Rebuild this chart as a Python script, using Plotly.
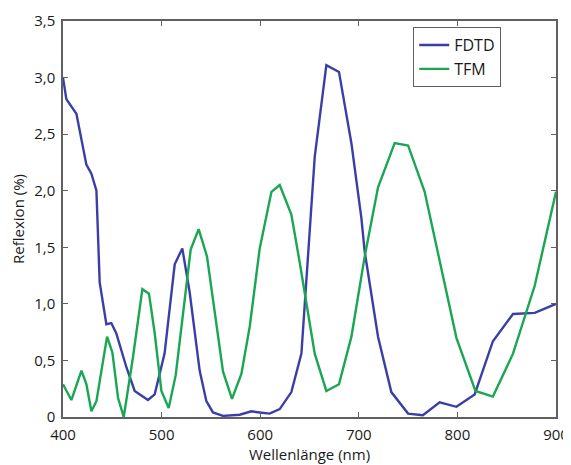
import plotly.graph_objects as go

fdtd_x = [400, 403.4, 413.6, 423.7, 428.8, 433.9, 437.2, 444, 449, 454, 464.3, 472.7, 486.2, 493,
          503, 513.3, 521, 528.5, 538.6, 545.4, 552.1, 562.3, 579.2, 591.1, 599.5, 609.6, 619.8,
          631.6, 641.8, 655.3, 667.1, 679.9, 692.5, 702.6, 706, 719.5, 733, 750, 765, 782, 799,
          817.5, 836, 856.4, 878.4, 900]
fdtd_y = [3.0, 2.81, 2.68, 2.23, 2.15, 2.0, 1.19, 0.82, 0.83, 0.74, 0.44, 0.23, 0.15, 0.20,
          0.56, 1.35, 1.49, 1.10, 0.41, 0.14, 0.04, 0.01, 0.02, 0.05, 0.04, 0.03, 0.07,
          0.22, 0.56, 2.30, 3.11, 3.05, 2.42, 1.76, 1.46, 0.71, 0.22, 0.03, 0.015, 0.13, 0.09,
          0.20, 0.67, 0.91, 0.92, 1.00]

tfm_x = [400, 408.5, 418.7, 423.7, 428.8, 433.9, 444.7, 450.1, 455.8, 461.6, 471, 480.5, 487.2,
         493, 499.8, 507.2, 514.3, 521.7, 529.5, 537.6, 546, 562.3, 571.4, 580.9, 589.4, 599.5,
         611.4, 619.8, 631.6, 640, 655.3, 667.1, 679.9, 692.5, 706, 719.5, 736.4, 750, 766.8,
         799, 818.3, 836, 856.4, 878.4, 900]
tfm_y = [0.29, 0.15, 0.41, 0.29, 0.05, 0.14, 0.71, 0.57, 0.17, 0.0, 0.53, 1.13, 1.09,
         0.74, 0.23, 0.08, 0.37, 0.91, 1.48, 1.66, 1.42, 0.40, 0.16, 0.38, 0.80, 1.49,
         1.99, 2.05, 1.79, 1.37, 0.56, 0.23, 0.29, 0.71, 1.42, 2.03, 2.42, 2.40, 1.99,
         0.70, 0.23, 0.18, 0.56, 1.16, 1.99]

y_tickvals = [0, 0.5, 1.0, 1.5, 2.0, 2.5, 3.0, 3.5]
y_ticktext = ["0", "0,5", "1,0", "1,5", "2,0", "2,5", "3,0", "3,5"]
x_tickvals = [400, 500, 600, 700, 800, 900]

FONT = "Open Sans"
TXT = "#1a1a1a"

fig = go.Figure()
fig.add_trace(go.Scatter(x=fdtd_x, y=fdtd_y, mode="lines", name="FDTD",
                         line=dict(color="#3a3fa8", width=2.4)))
fig.add_trace(go.Scatter(x=tfm_x, y=tfm_y, mode="lines", name="TFM",
                         line=dict(color="#1aa653", width=2.4)))

axis_common = dict(showgrid=False, zeroline=False, showline=True, linecolor="#606060",
                   linewidth=1.5, mirror="ticks", ticks="inside", ticklen=5,
                   tickcolor="#606060", automargin=False,
                   tickfont=dict(family=FONT, size=15, color=TXT))

fig.update_layout(
    width=563, height=457,
    margin=dict(l=55, r=15, t=13, b=48),
    paper_bgcolor="white", plot_bgcolor="white",
    font=dict(family=FONT, size=15, color=TXT),
    xaxis=dict(range=[400, 900], tickvals=x_tickvals, ticklabelstandoff=3,
               title=dict(text="Wellenlänge (nm)", font=dict(family=FONT, size=15, color=TXT),
                          standoff=7),
               **axis_common),
    yaxis=dict(range=[0, 3.5], tickvals=y_tickvals, ticktext=y_ticktext, ticklabelstandoff=3,
               title=dict(text="Reflexion (%)", font=dict(family=FONT, size=15, color=TXT),
                          standoff=8),
               **axis_common),
    legend=dict(x=0.71, y=0.985, xanchor="left", yanchor="top",
                bordercolor="#606060", borderwidth=1.2, bgcolor="white",
                font=dict(family=FONT, size=16, color=TXT), tracegroupgap=0,
                itemwidth=30, entrywidth=115, orientation="v"),
    showlegend=True,
)

fig.write_html("out.html")
